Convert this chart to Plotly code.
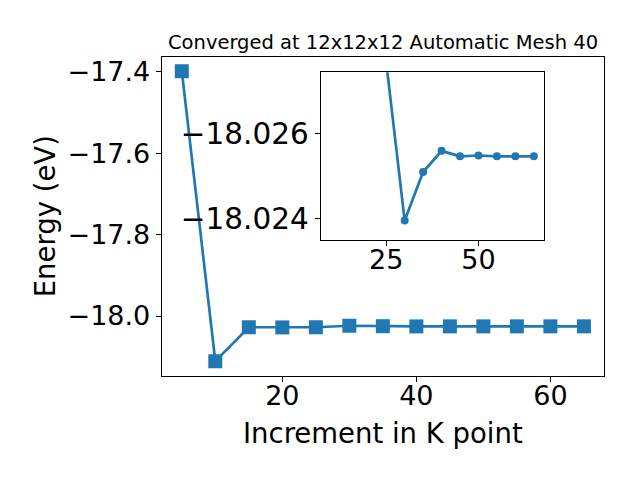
import plotly.graph_objects as go

# ---- data ----
kpoints = [5, 10, 15, 20, 25, 30, 35, 40, 45, 50, 55, 60, 65]
energy = [-17.398, -18.111, -18.0276, -18.0281, -18.0277, -18.02395,
          -18.0251, -18.0256, -18.02547, -18.02549, -18.02547, -18.02547, -18.02547]
inset_kpoints = kpoints[1:]
inset_energy = energy[1:]

main_xticks = [20, 40, 60]
main_yticks = [-17.4, -17.6, -17.8, -18.0]
inset_xticks = [25, 50]
inset_yticks = [-18.026, -18.024]

title_text = "Converged at 12x12x12 Automatic Mesh 40"
xlabel = "Increment in K point"
ylabel = "Energy (eV)"

# ---- layout helpers ----
W, H = 640, 480
OFF = 8  # page body margin
C = "#1f77b4"
FONT = "DejaVu Sans"
TICK_SIZE = 27


def fx(p):
    return (p - OFF) / W


def fy(p):
    return 1 - (p - OFF) / H


def axis_style(size=TICK_SIZE, **extra):
    d = dict(
        showline=True, mirror=True, linecolor="black", linewidth=1,
        ticks="outside", ticklen=5, tickwidth=1, tickcolor="black",
        showgrid=False, zeroline=False, automargin=False,
        tickfont=dict(family=FONT, size=size, color="black"),
    )
    d.update(extra)
    return d


fig = go.Figure()
fig.add_trace(go.Scatter(
    x=kpoints, y=energy, mode="lines+markers",
    line=dict(color=C, width=2.7),
    marker=dict(symbol="square", size=14, color=C),
    xaxis="x", yaxis="y", showlegend=False,
))
fig.add_trace(go.Scatter(
    x=inset_kpoints, y=inset_energy, mode="lines+markers",
    line=dict(color=C, width=2.7),
    marker=dict(symbol="circle", size=8, color=C),
    xaxis="x2", yaxis="y2", showlegend=False,
))

fig.update_layout(
    width=W, height=H,
    margin=dict(l=0, r=0, t=0, b=0, autoexpand=False),
    paper_bgcolor="white", plot_bgcolor="white",
    xaxis=dict(domain=[fx(161.7), fx(604)], range=[2, 68],
               tickvals=main_xticks, anchor="y",
               **axis_style(ticklabelstandoff=-9)),
    yaxis=dict(domain=[fy(376), fy(56.7)], range=[-18.1475, -17.3625],
               tickvals=main_yticks, tickformat=".1f", anchor="x",
               **axis_style()),
    xaxis2=dict(domain=[fx(320.7), fx(544)], range=[7.25, 67.75],
                tickvals=inset_xticks, anchor="y2",
                **axis_style(ticklabelstandoff=-9)),
    yaxis2=dict(domain=[fy(240), fy(72.3)], range=[-18.02349, -18.02746],
                tickvals=inset_yticks, tickformat=".3f", anchor="x2",
                **axis_style(size=29.5)),
    annotations=[
        dict(text=title_text, x=fx(382.9), y=fy(43), xref="paper", yref="paper",
             xanchor="center", yanchor="middle", showarrow=False,
             font=dict(family=FONT, size=19.5, color="black")),
        dict(text=xlabel, x=fx(382.9), y=fy(433), xref="paper", yref="paper",
             xanchor="center", yanchor="middle", showarrow=False,
             font=dict(family=FONT, size=27.5, color="black")),
        dict(text=ylabel, x=fx(45), y=fy(216.3), xref="paper", yref="paper",
             xanchor="center", yanchor="middle", showarrow=False, textangle=-90,
             font=dict(family=FONT, size=27.5, color="black")),
    ],
)

fig.write_html("out.html")
